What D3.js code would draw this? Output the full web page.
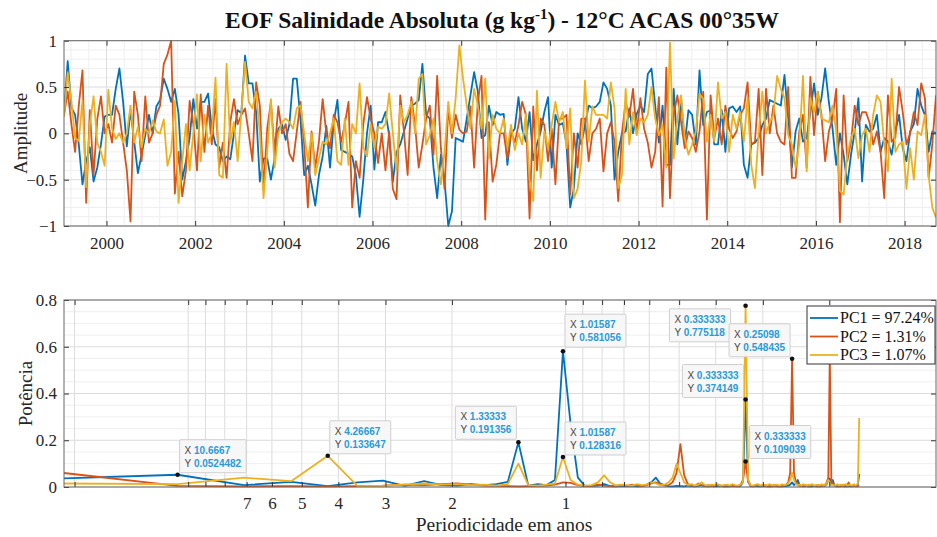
<!DOCTYPE html>
<html><head><meta charset="utf-8">
<script src="https://cdn.jsdelivr.net/npm/d3@7"></script>
<style>body{margin:0;background:#fff} svg{display:block}</style>
</head><body>
<svg id="c" width="937" height="537"></svg>
<script>
// ---------------- DATA ----------------
const startYear = 1999;            // monthly series starting Jan 1999
const seriesNames = ["PC1", "PC2", "PC3"];
const legendLabels = ["PC1 = 97.24%", "PC2 = 1.31%", "PC3 = 1.07%"];

const pc1Amp = [0.2,0.78,0.28,0.2,-0.12,-0.55,-0.3,-0.15,-0.52,-0.37,
-0.12,0.18,0.2,0.2,0.48,0.7,0.34,-0.14,0.25,-0.09,
-0.43,-0.23,-0.02,0.2,0.0,0.29,0.36,0.59,0.48,0.34,
0.48,0.21,-0.5,-0.3,-0.05,0.37,0.05,0.34,0.34,0.43,
0.05,-0.12,-0.15,-0.3,-0.25,-0.28,0.0,0.25,0.22,0.84,
0.54,0.54,0.23,-0.52,-0.27,-0.27,-0.5,-0.27,0.05,0.1,
-0.07,0.1,0.59,0.59,0.15,-0.45,-0.35,-0.55,-0.78,-0.45,
-0.25,0.08,-0.37,0.12,0.36,-0.18,-0.2,-0.22,-0.25,
-0.45,-0.9,-0.5,0.0,0.3,-0.39,0.12,0.12,0.23,-0.02,
-0.52,-0.2,-0.12,0.02,0.16,0.3,0.32,0.36,0.75,0.2,
0.16,-0.37,-0.7,-0.23,-0.52,-1.0,-0.84,-0.05,-0.07,-0.09,
0.16,0.41,0.66,0.45,-0.05,-0.02,0.3,0.09,0.23,0.2,
0.21,-0.34,0.0,0.05,0.39,0.05,-0.09,0.23,-0.29,-0.12,
0.02,0.23,0.39,-0.37,0.2,0.09,0.11,-0.12,-0.8,-0.59,
0.0,-0.12,0.09,0.3,0.27,0.29,0.34,0.55,0.48,0.3,
-0.5,-0.2,0.0,0.02,0.27,0.0,0.21,0.3,0.23,
0.64,0.7,0.3,-0.1,0.3,-0.34,-0.34,0.48,-0.12,0.38,
-0.12,0.25,0.2,-0.12,0.68,0.09,0.23,0.25,-0.12,-0.12,
0.25,-0.2,0.27,0.29,0.23,0.29,-0.34,-0.48,-0.12,-0.1,
-0.05,0.09,0.16,0.36,0.34,0.32,0.3,0.63,
0.16,-0.37,0.02,0.16,-0.09,-0.05,0.23,0.54,0.2,0.38,
0.7,0.34,0.05,-0.34,0.0,-0.23,-0.55,-0.23,0.02,0.38,
-0.52,0.09,0.02,0.05,0.2,-0.2,-0.05,-0.09,-0.23,0.02,
0.2,-0.16,-0.3,0.02,0.1,0.48,0.3,0.2,-0.2,0.02,0.0];

const pc2Amp = [0.2,0.45,0.1,-0.2,0.3,0.68,-0.75,0.25,-0.45,0.15,
0.4,0.0,0.1,-0.1,0.3,0.2,-0.1,-0.4,-0.95,0.45,
0.2,-0.3,0.4,-0.1,0.0,0.2,0.3,0.75,0.85,1.0,
-0.65,-0.2,-0.68,-0.4,0.35,0.1,-0.4,0.42,-0.2,0.3,
-0.12,0.37,-0.37,-0.1,-0.48,0.12,0.37,0.1,0.2,0.27,
0.0,-0.3,0.55,0.3,-0.6,0.05,0.34,-0.2,0.29,0.0,
0.1,-0.22,-0.3,0.02,0.34,-0.12,-0.8,0.02,-0.37,-0.09,
0.37,0.0,-0.16,0.2,0.12,-0.09,0.1,0.34,-0.8,
-0.3,-0.48,0.1,0.39,0.16,0.0,-0.32,0.0,-0.4,0.02,
-0.6,-0.71,0.41,0.02,-0.45,0.39,0.09,-0.37,-0.12,0.16,
0.3,-0.23,0.62,-0.16,-0.6,0.27,-0.05,0.2,0.04,0.0,
0.02,0.29,-0.37,0.34,0.62,-0.93,0.12,-0.52,-0.34,0.0,
0.0,-0.27,0.02,-0.1,0.09,0.34,0.2,-0.92,0.29,-0.4,
0.16,0.09,-0.3,0.05,-0.55,0.16,0.16,0.2,-0.66,0.0,
-0.37,0.16,0.16,-0.3,0.0,0.05,0.16,-0.41,0.0,0.12,
-0.09,-0.73,0.0,0.34,0.18,0.48,0.0,0.38,0.05,
-0.1,-0.37,-0.2,0.39,-0.79,0.71,-0.7,0.2,0.41,0.12,
-0.16,0.02,-0.05,-0.2,0.02,0.45,-0.93,0.41,-0.05,0.16,
-0.12,0.3,0.05,-0.05,0.02,0.2,0.27,0.55,-0.12,-0.09,
0.48,-0.45,0.48,0.0,0.3,0.0,-0.09,-0.12,
0.5,-0.48,-0.48,0.02,0.2,-0.37,0.61,-0.02,0.45,0.2,
-0.3,0.02,0.16,0.48,-0.96,0.41,-0.3,-0.09,0.3,0.09,
0.23,0.23,0.12,-0.12,0.02,-0.2,-0.7,0.41,-0.09,-0.05,
0.5,0.23,-0.12,0.0,0.23,0.09,0.54,0.38,-0.48,-0.12,0.41];

const pc3Amp = [0.18,0.66,0.35,-0.05,-0.08,0.35,-0.58,0.1,0.4,-0.1,
-0.2,-0.35,0.47,0.05,-0.06,0.0,-0.1,0.0,0.3,-0.1,
0.07,-0.15,0.05,0.0,0.14,0.02,0.0,0.15,-0.35,-0.2,
0.35,-0.75,-0.3,0.1,-0.4,0.0,0.42,-0.3,0.2,-0.1,
0.0,0.6,-0.45,-0.48,0.75,-0.1,0.12,-0.3,0.23,0.77,
0.34,0.27,0.45,0.0,-0.7,-0.2,0.37,-0.37,0.0,0.12,
0.16,0.12,0.05,0.27,0.3,0.0,-0.3,0.0,-0.45,-0.27,
-0.09,-0.12,0.0,0.16,-0.3,-0.34,0.16,-0.34,0.1,
0.0,0.54,-0.15,-0.25,0.1,-0.16,0.07,0.05,0.1,0.43,
0.0,-0.41,0.3,0.12,0.2,0.34,0.0,0.59,0.64,-0.12,
-0.02,0.16,-0.3,-0.55,-0.2,0.34,0.0,0.38,0.95,0.59,
0.3,0.05,0.48,0.3,0.05,0.59,-0.27,0.2,0.05,0.0,
0.16,-0.16,0.09,-0.18,0.0,-0.12,0.21,-0.5,-0.73,0.46,
-0.48,0.02,-0.16,0.09,0.34,0.12,0.23,-0.16,0.27,-0.7,
-0.6,-0.3,0.57,-0.09,0.29,0.2,0.2,0.2,0.16,0.55,
0.27,-0.59,-0.45,0.48,-0.12,0.23,-0.02,0.16,0.12,
0.2,0.5,0.16,-0.02,0.09,-0.37,0.98,-0.27,0.16,0.41,
-0.05,-0.23,-0.12,0.02,0.43,0.37,-0.09,0.2,-0.09,0.55,
0.16,0.23,-0.2,0.2,0.05,0.23,-0.09,0.38,-0.34,-0.59,
0.0,0.45,0.0,0.12,0.2,0.62,0.48,0.38,
-0.02,-0.12,-0.37,-0.12,0.62,-0.41,0.38,0.23,0.45,0.16,
0.14,0.12,0.3,0.02,-0.62,-0.66,-0.23,-0.05,0.05,-0.27,
-0.02,0.05,-0.2,0.2,0.41,0.34,-0.12,-0.41,0.59,-0.2,
-0.12,-0.09,-0.6,-0.16,-0.5,0.02,-0.02,0.2,-0.45,-0.8,-0.91];

// Power spectra, FFT bins k = 1..128 (nfft = 256 months)
const nfft = 256;
const pc1Pow = [0.037,0.0524482,0.008,0.022,0.004,0.02,0.027,0.005,0.025,0.008,
0.006,0.012,0.008,0.012,0.022,0.191356,0.006,0.012,0.008,0.03,
0.581056,0.27,0.04,0.005,0.004,0.006,0.012,0.004,0.003,0.005,
0.004,0.006,0.003,0.004,0.01,0.02,0.04,0.015,0.008,0.004,
0.003,0.005,0.004,0.003,0.006,0.004,0.003,0.005,0.008,0.004,
0.003,0.005,0.003,0.004,0.006,0.003,0.004,0.003,0.005,0.004,
0.003,0.004,0.02,0.374149,0.03,0.004,0.003,0.005,0.004,0.003,
0.004,0.006,0.003,0.004,0.003,0.005,0.004,0.003,0.004,0.003,
0.005,0.004,0.006,0.01,0.02,0.008,0.015,0.03,0.008,0.004,
0.003,0.005,0.004,0.003,0.004,0.003,0.005,0.004,0.003,0.004,
0.003,0.005,0.004,0.006,0.012,0.03,0.035,0.01,0.03,0.006,
0.004,0.003,0.004,0.003,0.005,0.004,0.003,0.004,0.003,0.005,
0.004,0.003,0.004,0.006,0.004,0.003,0.01,0.055];
const pc2Pow = [0.06,0.005,0.003,0.004,0.003,0.004,0.006,0.01,0.008,0.012,
0.015,0.01,0.006,0.005,0.004,0.003,0.004,0.005,0.006,0.01,
0.02,0.018,0.008,0.004,0.005,0.01,0.006,0.004,0.006,0.008,
0.005,0.01,0.006,0.004,0.008,0.015,0.02,0.012,0.006,0.008,
0.02,0.06,0.183,0.05,0.012,0.006,0.004,0.015,0.006,0.004,
0.008,0.004,0.006,0.01,0.005,0.004,0.008,0.005,0.004,0.006,
0.004,0.008,0.03,0.109039,0.02,0.005,0.004,0.006,0.01,0.005,
0.008,0.004,0.006,0.004,0.005,0.008,0.004,0.006,0.005,0.004,
0.008,0.01,0.02,0.06,0.548435,0.06,0.02,0.008,0.005,0.006,
0.004,0.008,0.005,0.004,0.006,0.01,0.005,0.004,0.006,0.008,
0.005,0.004,0.006,0.01,0.02,0.04,0.56,0.03,0.01,0.006,
0.004,0.008,0.005,0.004,0.006,0.01,0.005,0.004,0.008,0.02,
0.006,0.004,0.005,0.008,0.004,0.005,0.006,0.004];
const pc3Pow = [0.015,0.012,0.04,0.025,0.133647,0.004,0.006,0.01,0.015,0.01,
0.012,0.008,0.01,0.006,0.012,0.1,0.008,0.006,0.01,0.015,
0.128316,0.03,0.01,0.006,0.008,0.02,0.05,0.02,0.006,0.01,
0.008,0.006,0.012,0.008,0.01,0.02,0.015,0.008,0.01,0.02,
0.04,0.1,0.06,0.02,0.008,0.012,0.006,0.01,0.02,0.008,
0.006,0.01,0.008,0.012,0.006,0.008,0.01,0.006,0.012,0.008,
0.006,0.01,0.02,0.775118,0.03,0.008,0.006,0.01,0.012,0.006,
0.008,0.01,0.006,0.012,0.008,0.006,0.01,0.008,0.006,0.012,
0.008,0.01,0.015,0.03,0.06,0.03,0.012,0.008,0.01,0.006,
0.012,0.008,0.006,0.01,0.008,0.012,0.006,0.008,0.01,0.006,
0.008,0.012,0.006,0.01,0.015,0.03,0.02,0.008,0.01,0.006,
0.008,0.012,0.006,0.01,0.008,0.006,0.01,0.012,0.006,0.008,
0.01,0.006,0.008,0.012,0.006,0.01,0.015,0.295];

const timeTicks = [2000,2002,2004,2006,2008,2010,2012,2014,2016,2018];
const ampTicks = [-1,-0.5,0,0.5,1];
const powTicks = [0,0.2,0.4,0.6,0.8];
const periodTicks = [20,10,9,8,7,6,5,4,3,2,1,0.9,0.8,0.7,0.6,0.5,0.4,0.3,0.2];
const periodLabels = [7,6,5,4,3,2,1];

// data tips: series index, FFT bin, displayed X, displayed Y
const tipSeries = [0,2,0,0,2,2,1,0,1];
const tipBins   = [2,5,16,21,21,64,85,64,64];
const tipXText  = ["10.6667","4.26667","1.33333","1.01587","1.01587","0.333333","0.25098","0.333333","0.333333"];
const tipYText  = ["0.0524482","0.133647","0.191356","0.581056","0.128316","0.775118","0.548435","0.374149","0.109039"];

// ---------------- LAYOUT / STYLE ----------------
const colors = ["#0072BD","#D95319","#EDB120"];
const serif = "'Liberation Serif','Times New Roman',serif";
const sans = "'Liberation Sans',Arial,sans-serif";
const L = 64, R = 936;
const top1 = 40.7, bot1 = 226;
const top2 = 300, bot2 = 487;
// offsets of each tip box relative to its point (dx, dy)
const tipOffsets = [[2,-35],[2,-35],[-61,-36],[2,-37],[2,-35],[-74,3],[-61,-35],[-61,-35],[4,-36]];

const svg = d3.select("#c");
svg.append("rect").attr("width",937).attr("height",537).attr("fill","#fff");

const amps = [pc1Amp, pc2Amp, pc3Amp];
const pows = [pc1Pow, pc2Pow, pc3Pow];

// ---------- scales ----------
const monthYear = i => startYear + (i + 0.5) / 12;
const xT = d3.scaleLinear().domain([monthYear(0), monthYear(pc1Amp.length - 1)]).range([L, R]);
const yA = d3.scaleLinear().domain([-1, 1]).range([bot1, top1]);
const periodOf = i => nfft / 12 / (i + 1);
const xP = d3.scaleLog().domain([nfft / 12, 0.1043]).range([L, R]);
const yP = d3.scaleLinear().domain([0, 0.8]).range([bot2, top2]);

const majorGrid = "#dcdcdc", minorGrid = "#efefef";

// ---------- TOP PANEL ----------
const g1 = svg.append("g");
const minorX1 = d3.range(1999.2, 2018.75, 0.4).filter(v => v > xT.domain()[0] && v < xT.domain()[1]);
g1.selectAll(".mx").data(minorX1).enter().append("line")
  .attr("x1", d => xT(d)).attr("x2", d => xT(d)).attr("y1", top1).attr("y2", bot1)
  .attr("stroke", minorGrid).attr("stroke-width", 1);
const minorY1 = d3.range(-0.9, 0.95, 0.1).filter(v => Math.abs(v*2 - Math.round(v*2)) > 0.01);
g1.selectAll(".my").data(minorY1).enter().append("line")
  .attr("x1", L).attr("x2", R).attr("y1", d => yA(d)).attr("y2", d => yA(d))
  .attr("stroke", minorGrid).attr("stroke-width", 1);
g1.selectAll(".gx").data(timeTicks).enter().append("line")
  .attr("x1", d => xT(d)).attr("x2", d => xT(d)).attr("y1", top1).attr("y2", bot1)
  .attr("stroke", majorGrid);
g1.selectAll(".gy").data(ampTicks).enter().append("line")
  .attr("x1", L).attr("x2", R).attr("y1", d => yA(d)).attr("y2", d => yA(d))
  .attr("stroke", majorGrid);

svg.append("clipPath").attr("id","clip1").append("rect")
  .attr("x", L).attr("y", top1 - 1).attr("width", R - L).attr("height", bot1 - top1 + 2);
const lineT = d3.line().x((d, i) => xT(monthYear(i))).y(d => yA(d));
amps.forEach((a, s) => {
  g1.append("path").datum(a).attr("d", lineT).attr("clip-path","url(#clip1)")
    .attr("fill","none").attr("stroke", colors[s]).attr("stroke-width", 1.8)
    .attr("stroke-linejoin","round");
});

function styleAxis(sel) {
  sel.select(".domain").remove();
  sel.selectAll(".tick line").attr("stroke", "#333");
  sel.selectAll(".tick text").attr("fill", "#262626").style("font-family", serif).style("font-size", "17px");
}
svg.append("g").attr("transform", `translate(0,${bot1})`)
  .call(d3.axisBottom(xT).tickValues(timeTicks).tickFormat(d3.format("d")).tickSize(-5).tickPadding(11))
  .call(styleAxis);
svg.append("g").attr("transform", `translate(0,${top1})`)
  .call(d3.axisTop(xT).tickValues(timeTicks).tickFormat("").tickSize(-5))
  .call(styleAxis);
svg.append("g").attr("transform", `translate(${L},0)`)
  .call(d3.axisLeft(yA).tickValues(ampTicks).tickFormat(d => d3.format("")(d)).tickSize(-5).tickPadding(7))
  .call(styleAxis);
svg.append("g").attr("transform", `translate(${R},0)`)
  .call(d3.axisRight(yA).tickValues(ampTicks).tickFormat("").tickSize(-5))
  .call(styleAxis);
svg.append("rect").attr("x", L).attr("y", top1).attr("width", R - L).attr("height", bot1 - top1)
  .attr("fill","none").attr("stroke","#666").attr("stroke-width",1);

svg.append("text").attr("transform", `translate(20,${(top1+bot1)/2}) rotate(-90)`)
  .attr("text-anchor","middle").attr("dy","0.35em")
  .style("font-family", serif).style("font-size","19px").attr("fill","#262626").text("Amplitude");

// title
const title = svg.append("text").attr("x", 502).attr("y", 28).attr("text-anchor","middle")
  .style("font-family", serif).style("font-size","23.5px").style("font-weight","bold").attr("fill","#111");
title.append("tspan").text("EOF Salinidade Absoluta (g kg");
title.append("tspan").attr("dy", -9).style("font-size","15px").text("-1");
title.append("tspan").attr("dy", 9).text(") - 12°C ACAS 00°35W");

// ---------- BOTTOM PANEL ----------
const g2 = svg.append("g");
const minorY2 = d3.range(0.05, 0.8, 0.05).filter(v => Math.abs(v*5 - Math.round(v*5)) > 0.01);
g2.selectAll(".my").data(minorY2).enter().append("line")
  .attr("x1", L).attr("x2", R).attr("y1", d => yP(d)).attr("y2", d => yP(d))
  .attr("stroke", minorGrid);
g2.selectAll(".gx").data(periodTicks).enter().append("line")
  .attr("x1", d => xP(d)).attr("x2", d => xP(d)).attr("y1", top2).attr("y2", bot2)
  .attr("stroke", majorGrid);
g2.selectAll(".gy").data(powTicks).enter().append("line")
  .attr("x1", L).attr("x2", R).attr("y1", d => yP(d)).attr("y2", d => yP(d))
  .attr("stroke", majorGrid);

svg.append("clipPath").attr("id","clip2").append("rect")
  .attr("x", L).attr("y", top2 - 1).attr("width", R - L).attr("height", bot2 - top2 + 2);
const lineP = d3.line().x((d, i) => xP(periodOf(i))).y(d => yP(d));
pows.forEach((p, s) => {
  g2.append("path").datum(p).attr("d", lineP).attr("clip-path","url(#clip2)")
    .attr("fill","none").attr("stroke", colors[s]).attr("stroke-width", 1.8)
    .attr("stroke-linejoin","round");
});

svg.append("g").attr("transform", `translate(0,${bot2})`)
  .call(d3.axisBottom(xP).tickValues(periodTicks)
    .tickFormat(d => periodLabels.includes(d) ? String(d) : "").tickSize(-5).tickPadding(10))
  .call(styleAxis);
svg.append("g").attr("transform", `translate(0,${top2})`)
  .call(d3.axisTop(xP).tickValues(periodTicks).tickFormat("").tickSize(-5))
  .call(styleAxis);
svg.append("g").attr("transform", `translate(${L},0)`)
  .call(d3.axisLeft(yP).tickValues(powTicks).tickFormat(d => d3.format("")(d)).tickSize(-5).tickPadding(7))
  .call(styleAxis);
svg.append("g").attr("transform", `translate(${R},0)`)
  .call(d3.axisRight(yP).tickValues(powTicks).tickFormat("").tickSize(-5))
  .call(styleAxis);
svg.append("rect").attr("x", L).attr("y", top2).attr("width", R - L).attr("height", bot2 - top2)
  .attr("fill","none").attr("stroke","#666").attr("stroke-width",1);

svg.append("text").attr("transform", `translate(25,${(top2+bot2)/2}) rotate(-90)`)
  .attr("text-anchor","middle").attr("dy","0.35em")
  .style("font-family", serif).style("font-size","19px").attr("fill","#262626").text("Potência");
svg.append("text").attr("x", 504).attr("y", 531).attr("text-anchor","middle")
  .style("font-family", serif).style("font-size","19.5px").attr("fill","#262626").text("Periodicidade em anos");

// ---------- data tips ----------
const tipsG = svg.append("g");
tipSeries.forEach((s, t) => {
  const k = tipBins[t];
  const px = xP(periodOf(k - 1)), py = yP(pows[s][k - 1]);
  const [dx, dy] = tipOffsets[t];
  const tg = tipsG.append("g");
  const box = tg.append("rect").attr("y", py + dy).attr("height", 33)
    .attr("fill", "#f7f7f7").attr("fill-opacity", 0.95)
    .attr("stroke", "#cfcfcf").attr("stroke-width", 1).attr("rx", 1);
  const t1 = tg.append("text").attr("y", py + dy + 14).style("font-family", sans).style("font-size","10px");
  t1.append("tspan").attr("fill","#444").text("X ");
  t1.append("tspan").attr("fill","#2a9bd8").style("font-weight","bold").text(tipXText[t]);
  const t2 = tg.append("text").attr("y", py + dy + 27).style("font-family", sans).style("font-size","10px");
  t2.append("tspan").attr("fill","#444").text("Y ");
  t2.append("tspan").attr("fill","#2a9bd8").style("font-weight","bold").text(tipYText[t]);
  const w = Math.max(t1.node().getComputedTextLength(), t2.node().getComputedTextLength()) + 10;
  const bx = dx < 0 ? px + dx + 59 - w : px + dx;
  box.attr("x", bx).attr("width", w);
  t1.attr("x", bx + 5); t2.attr("x", bx + 5);
  tipsG.append("circle").attr("cx", px).attr("cy", py).attr("r", 2.3).attr("fill", "#111");
});

// ---------- legend ----------
const lg = svg.append("g");
lg.append("rect").attr("x", 807).attr("y", 306).attr("width", 128).attr("height", 58)
  .attr("fill","#fff").attr("stroke","#333").attr("stroke-width",1);
legendLabels.forEach((lab, i) => {
  const y = 318 + i * 18.5;
  lg.append("line").attr("x1", 810).attr("x2", 838).attr("y1", y).attr("y2", y)
    .attr("stroke", colors[i]).attr("stroke-width", 1.8);
  lg.append("text").attr("x", 840).attr("y", y).attr("dy","0.33em")
    .style("font-family", serif).style("font-size","16px").attr("fill","#111").text(lab);
});
</script>
</body></html>
